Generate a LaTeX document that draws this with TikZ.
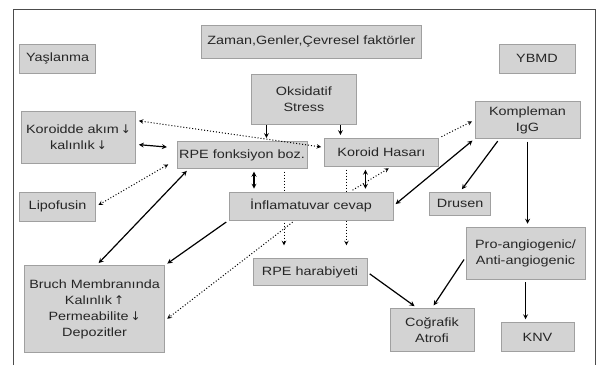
\documentclass[tikz,border=0pt]{standalone}
\usepackage{fontspec}
\setmainfont[FakeStretch=1.2]{Liberation Sans}
\newfontfamily\arrowfont{DejaVu Sans}
\usepackage{xcolor}
\usepackage{tikz}
\usetikzlibrary{arrows,positioning,backgrounds}
\newcommand{\azal}{{\arrowfont\,↓}}
\newcommand{\artis}{{\arrowfont\,↑}}
\definecolor{boxgray}{RGB}{211,211,211}
\definecolor{boxline}{RGB}{160,160,160}

\begin{document}
\begin{tikzpicture}[
    box/.style={rectangle, draw=boxline, line width=0.6pt, fill=boxgray, align=center, inner sep=2pt, text=black!85, font=\fontsize{12}{16}\selectfont},
    arrow/.style={->, >=stealth, line width=1.2pt, shorten >=3pt, shorten <=3pt},
    dblarrow/.style={<->, >=stealth, line width=1.2pt, shorten >=3pt, shorten <=3pt},
    dotarrow/.style={->, >=stealth, line width=1pt, dotted, shorten >=3pt, shorten <=3pt},
    dotdbl/.style={<->, >=stealth, line width=1pt, dotted, shorten >=3pt, shorten <=3pt},
    frame/.style={draw=black!70, line width=0.8pt}
]
    \useasboundingbox (0,0) rectangle (597pt,-365pt);

    % Frame
    \draw[frame] (13pt,-365pt) |- (595pt,-9pt) -- (595pt,-365pt);

    % Inflammation
    \node[box, minimum width=164pt, minimum height=28pt] (inflam) at (311pt,-206pt) {İnflamatuvar cevap};

    % RPE and choroid
    \node[box, above=23pt of inflam, xshift=-69pt, minimum width=128pt, minimum height=27pt] (rpe) {RPE fonksiyon boz.};
    \node[box, right=17pt of rpe, yshift=2.5pt, minimum width=114pt, minimum height=28pt] (hasar) {Koroid Hasarı};

    % Oxidative stress
    \node[box, above=14pt of hasar, xshift=-77.5pt, minimum width=105pt, minimum height=50pt] (oksi) {Oksidatif\\Stress};

    % Risk factors
    \node[box, above=15pt of oksi, xshift=7.5pt, minimum width=220pt, minimum height=33pt] (zaman) {Zaman,Genler,Çevresel faktörler};

    % Left column
    \node[box, left=41pt of rpe, yshift=17.5pt, minimum width=114pt, minimum height=52pt] (koroid) {Koroidde akım\azal\\kalınlık\azal};
    \node[box, above=38pt of koroid, xshift=-21pt, minimum width=76pt, minimum height=29pt] (yas) {Yaşlanma};
    \node[box, below=28pt of koroid, xshift=-21pt, minimum width=76pt, minimum height=29pt] (lipo) {Lipofusin};
    \node[box, below=44pt of lipo, xshift=37pt, minimum width=140pt, minimum height=87pt] (bruch) {Bruch Membranında\\Kalınlık\artis\\Permeabilite\azal\\Depozitler};

    % RPE damage
    \node[box, below=38pt of inflam, xshift=-1pt, minimum width=114pt, minimum height=27pt] (harab) {RPE harabiyeti};

    % Right column
    \node[box, right=36pt of inflam, yshift=2.5pt, minimum width=61pt, minimum height=23pt] (drusen) {Drusen};
    \node[box, right=36pt of hasar, yshift=32.5pt, minimum width=105pt, minimum height=37pt] (komp) {Kompleman\\IgG};
    \node[box, above=28pt of komp, xshift=9.5pt, minimum width=76pt, minimum height=29pt] (ybmd) {YBMD};
    \node[box, below=88pt of komp, xshift=-2pt, minimum width=119pt, minimum height=52pt] (angio) {Pro-angiogenic/\\Anti-angiogenic};
    \node[box, below=43pt of angio, xshift=12pt, minimum width=73pt, minimum height=29pt] (knv) {KNV};

    % Geographic atrophy
    \node[box, below=22pt of harab, xshift=122pt, minimum width=84pt, minimum height=43pt] (atrofi) {Coğrafik\\Atrofi};

    % Choroid flow
    \draw[dotdbl] ([yshift=17pt]koroid.east) -- ([yshift=5pt]hasar.west);
    \draw[dblarrow, shorten >=10pt] ([yshift=-7pt]koroid.east) -- ([yshift=7pt]rpe.west);
    \draw[dotdbl, shorten <=10pt] ([yshift=-4.5pt]rpe.west) -- (lipo.east);

    % Bruch membrane
    \draw[dblarrow] ([xshift=2pt]bruch.north) -- ([xshift=12pt]rpe.south west);
    \draw[arrow] (inflam.south west) -- (bruch.north east);
    \draw[dotarrow] ([xshift=-16pt]inflam.south) -- ([yshift=-11.5pt]bruch.east);

    % Oxidative stress
    \draw[arrow, shorten <=1pt] ([xshift=-37.5pt]oksi.south) -- ([xshift=-37.5pt]oksi.south |- rpe.north);
    \draw[arrow, shorten <=1pt] ([xshift=36.5pt]oksi.south) -- ([xshift=36.5pt]oksi.south |- hasar.north);

    % To inflammation
    \draw[dblarrow] ([xshift=12pt]rpe.south) -- ([xshift=12pt]rpe.south |- inflam.north);
    \draw[dblarrow] ([xshift=-16pt]hasar.south) -- ([xshift=-16pt]hasar.south |- inflam.north);
    \draw[dotarrow] ([xshift=39pt]inflam.north) -- ([xshift=10pt]hasar.south);

    % Through inflammation to RPE damage
    \begin{scope}[on background layer]
    \draw[dotarrow, shorten >=13pt] ([xshift=42pt]rpe.south) -- ([xshift=42pt]rpe.south |- harab.north);
    \draw[dotarrow, shorten >=13pt] ([xshift=-35pt]hasar.south) -- ([xshift=-35pt]hasar.south |- harab.north);
    \end{scope}

    % Complement
    \draw[dotarrow] (hasar.north east) -- (komp.west);
    \draw[dblarrow] (inflam.east) -- (komp.south west);
    \draw[arrow] ([xshift=-28pt]komp.south) -- (drusen.north);
    \draw[arrow] (komp.south) -- (komp.south |- angio.north);
    \draw[arrow] (angio.south) -- (angio.south |- knv.north);

    % Atrophy
    \draw[arrow] ([yshift=-4pt]angio.west) -- (atrofi.north);
    \draw[arrow] (harab.east) -- ([xshift=-15pt]atrofi.north);

\end{tikzpicture}
\end{document}
